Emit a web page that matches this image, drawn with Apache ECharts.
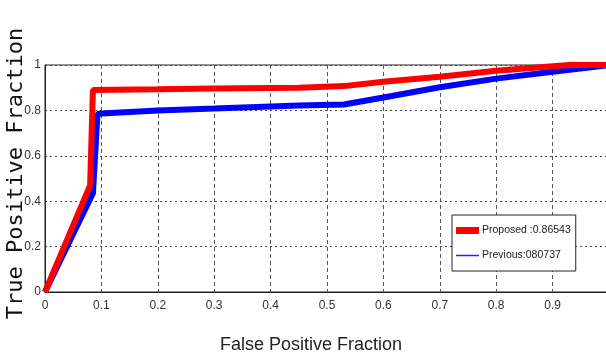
<!DOCTYPE html>
<html>
<head>
<meta charset="utf-8">
<script src="https://cdn.jsdelivr.net/npm/echarts@6/dist/echarts.min.js"></script>
<style>
  html, body { margin: 0; padding: 0; background: #fff; }
  #main { width: 606px; height: 358px; }
</style>
</head>
<body>
<div id="main"></div>
<script>
// ROC points [false positive fraction, true positive fraction]
const proposedName = 'Proposed :0.86543';
const previousName = 'Previous:080737';
const proposed = [
  [0, 0], [0.08, 0.47], [0.085, 0.89], [0.2, 0.893], [0.3, 0.896], [0.45, 0.9],
  [0.53, 0.907], [0.6, 0.926], [0.7, 0.948], [0.8, 0.975], [0.9, 0.995], [0.93, 1], [1, 1]
];
const previous = [
  [0, 0], [0.085, 0.435], [0.093, 0.784], [0.1, 0.786], [0.2, 0.8], [0.3, 0.808],
  [0.45, 0.822], [0.53, 0.826], [0.6, 0.857], [0.7, 0.902], [0.8, 0.94], [0.9, 0.97], [1, 1]
];
const xTicks = [0, 0.1, 0.2, 0.3, 0.4, 0.5, 0.6, 0.7, 0.8, 0.9];
const yTicks = [0, 0.2, 0.4, 0.6, 0.8, 1];

const sans = '"Liberation Sans", Arial, sans-serif';

let chart = echarts.init(document.getElementById('main'), null, { renderer: 'canvas' });
let option = {
  animation: false,
  backgroundColor: '#fff',
  grid: {
    left: 45, top: 65, right: -3, bottom: 66,
    containLabel: false,
    outerBoundsMode: 'none',
    show: true, borderColor: '#222', borderWidth: 1
  },
  legend: {
    left: 452, top: 215,
    orient: 'vertical',
    backgroundColor: '#fff',
    borderColor: '#222', borderWidth: 1,
    padding: [10, 5, 10, 4],
    itemGap: 14,
    itemWidth: 23, itemHeight: 7,
    textStyle: { fontFamily: sans, fontSize: 10.5, color: '#222', padding: [0, 0, 0, -2] },
    data: [
      { name: proposedName, icon: 'rect', itemStyle: { color: '#ff0000' } },
      { name: previousName, icon: 'path://M0,3H23V4.5H0Z', itemStyle: { color: '#2222ff' } }
    ]
  },
  xAxis: {
    type: 'value', min: 0, max: 1, interval: 0.1,
    name: 'False Positive Fraction',
    nameLocation: 'middle', nameGap: 44, nameMoveOverlap: false,
    nameTextStyle: { fontFamily: sans, fontSize: 18, color: '#222', padding: [0, 32, 0, 0] },
    axisLine: { show: true, lineStyle: { color: '#222' } },
    axisTick: { show: false },
    axisLabel: {
      fontFamily: sans, fontSize: 12, color: '#333', margin: 8,
      formatter: v => xTicks.some(t => Math.abs(t - v) < 1e-9) ? String(+v.toFixed(1)) : ''
    },
    splitLine: { show: true, lineStyle: { type: [4, 3], color: '#555', width: 1 } }
  },
  yAxis: {
    type: 'value', min: 0, max: 1, interval: 0.2,
    name: 'True Positive Fraction',
    nameLocation: 'middle', nameGap: 18, nameRotate: 90, nameMoveOverlap: false,
    nameTextStyle: { fontFamily: '"DejaVu Sans Mono", monospace', fontSize: 22, color: '#111', padding: [0, 0, 0, 10] },
    axisLine: { show: true, lineStyle: { color: '#222' } },
    axisTick: { show: false },
    axisLabel: {
      fontFamily: sans, fontSize: 12, color: '#333', margin: 4,
      formatter: v => yTicks.some(t => Math.abs(t - v) < 1e-9) ? String(+v.toFixed(1)) : ''
    },
    splitLine: { show: true, lineStyle: { type: [2, 3], color: '#444', width: 1 } }
  },
  series: [
    {
      name: previousName, type: 'line', symbol: 'none',
      lineStyle: { color: '#0000ff', width: 6 }, itemStyle: { color: '#2222ff' },
      data: previous, z: 2
    },
    {
      name: proposedName, type: 'line', symbol: 'none',
      lineStyle: { color: '#ff0000', width: 6 }, itemStyle: { color: '#ff0000' },
      data: proposed, z: 3
    }
  ]
};
chart.setOption(option);
</script>
</body>
</html>
